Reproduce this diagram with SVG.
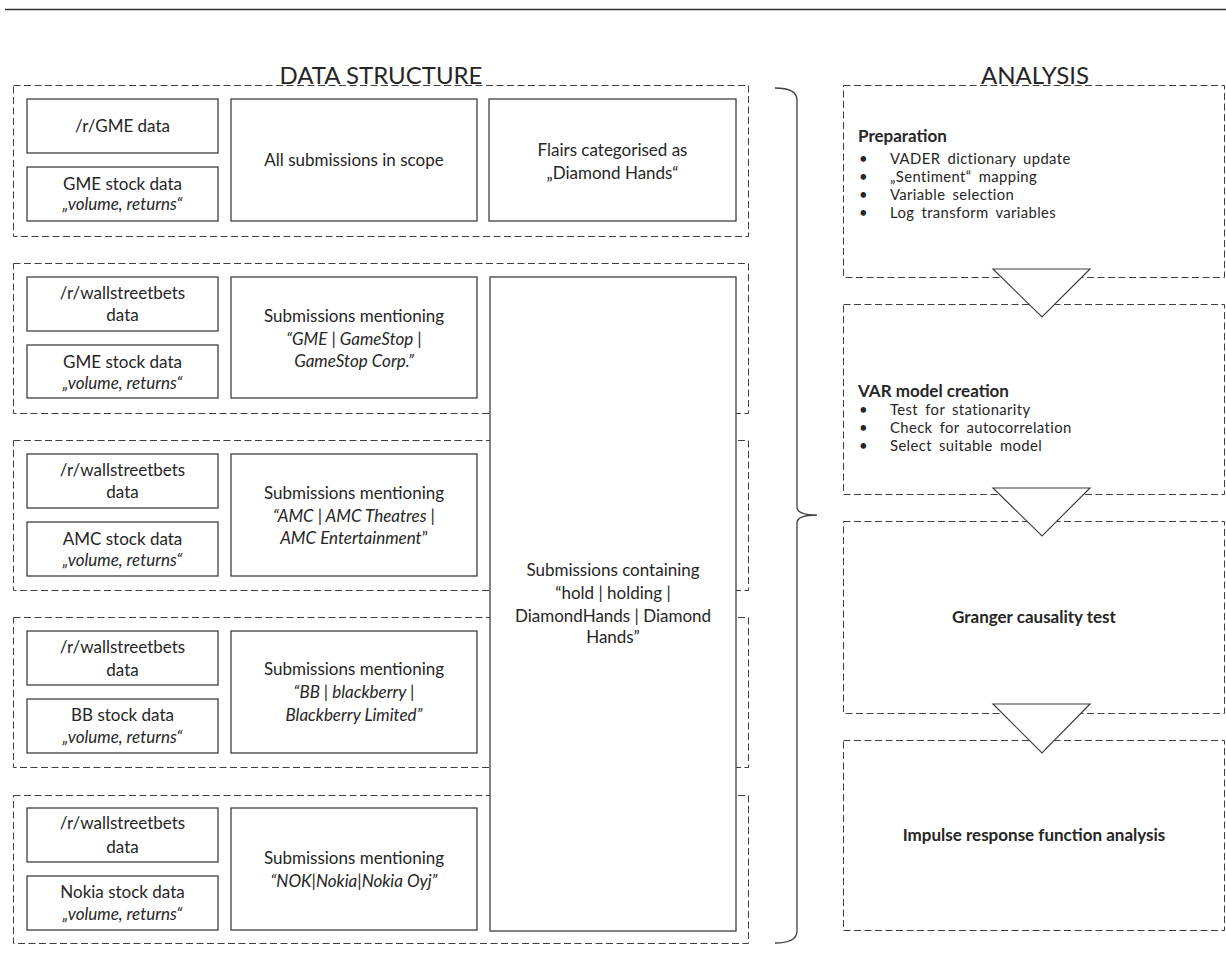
<svg xmlns="http://www.w3.org/2000/svg" width="1226" height="967" viewBox="0 0 1226 967">
<style>
text{font-family:Lato,"Open Sans","Liberation Sans",sans-serif;fill:#262626;font-size:17px;text-anchor:middle}
.title{font-size:24px}
.it{font-style:italic}
.b{font-weight:bold}
.l{text-anchor:start}
.li{font-size:14.8px;letter-spacing:0.4px;word-spacing:3px;text-anchor:start}
.grp{fill:none;stroke:#404040;stroke-width:1;stroke-dasharray:7,3.5}
.box{fill:#fff;stroke:#404040;stroke-width:1.3}
.tri{fill:#fff;stroke:#404040;stroke-width:1.2;stroke-linejoin:miter}
.br{fill:none;stroke:#404040;stroke-width:1.3}
</style>
<rect width="1226" height="967" fill="#fff"/>
<line x1="5" y1="9.5" x2="1226" y2="9.5" stroke="#333" stroke-width="1.3"/>
<text class="title" x="381" y="84">DATA STRUCTURE</text>
<text class="title" x="1035" y="84">ANALYSIS</text>

<g id="group-gme-reddit">
<rect class="grp" x="13.5" y="85.5" width="735" height="151"/>
<g id="n-gme-data"><rect class="box" x="27" y="99" width="191" height="54"/><text x="122.5" y="132">/r/GME data</text></g>
<g id="n-gme-stock"><rect class="box" x="27" y="167" width="191" height="54"/><text x="122.5" y="190">GME stock data</text><text class="it" x="122.5" y="210">„volume, returns“</text></g>
<g id="n-all-subs"><rect class="box" x="231" y="99" width="246" height="122"/><text x="354" y="166">All submissions in scope</text></g>
<g id="n-flairs"><rect class="box" x="489" y="99" width="247" height="122"/><text x="612.5" y="156">Flairs categorised as</text><text x="612.5" y="179">„Diamond Hands“</text></g>
</g>

<g id="group-gme-wsb">
<rect class="grp" x="13.5" y="263.5" width="735" height="150"/>
<g id="n-wsb-1"><rect class="box" x="27" y="277" width="191" height="54"/><text x="122.5" y="299">/r/wallstreetbets</text><text x="122.5" y="321">data</text></g>
<g id="n-gme-stock-2"><rect class="box" x="27" y="345" width="191" height="53"/><text x="122.5" y="368">GME stock data</text><text class="it" x="122.5" y="389">„volume, returns“</text></g>
<g id="n-gme-subs"><rect class="box" x="231" y="277" width="246" height="121"/><text x="354" y="322">Submissions mentioning</text><text class="it" x="354" y="345">“GME | GameStop |</text><text class="it" x="354" y="367">GameStop Corp.”</text></g>
</g>

<g id="group-amc">
<rect class="grp" x="13.5" y="440.5" width="735" height="150"/>
<g id="n-wsb-2"><rect class="box" x="27" y="454" width="191" height="54"/><text x="122.5" y="476">/r/wallstreetbets</text><text x="122.5" y="498">data</text></g>
<g id="n-amc-stock"><rect class="box" x="27" y="522" width="191" height="54"/><text x="122.5" y="545">AMC stock data</text><text class="it" x="122.5" y="566">„volume, returns“</text></g>
<g id="n-amc-subs"><rect class="box" x="231" y="454" width="246" height="122"/><text x="354" y="499">Submissions mentioning</text><text class="it" x="354" y="522">“AMC | AMC Theatres |</text><text x="354" y="544"><tspan class="it">AMC Entertainment</tspan>”</text></g>
</g>

<g id="group-bb">
<rect class="grp" x="13.5" y="617.5" width="735" height="150"/>
<g id="n-wsb-3"><rect class="box" x="27" y="631" width="191" height="54"/><text x="122.5" y="653">/r/wallstreetbets</text><text x="122.5" y="676">data</text></g>
<g id="n-bb-stock"><rect class="box" x="27" y="699" width="191" height="54"/><text x="122.5" y="721">BB stock data</text><text class="it" x="122.5" y="743">„volume, returns“</text></g>
<g id="n-bb-subs"><rect class="box" x="231" y="631" width="246" height="122"/><text x="354" y="675">Submissions mentioning</text><text class="it" x="354" y="698">“BB | blackberry |</text><text class="it" x="354" y="721">Blackberry Limited”</text></g>
</g>

<g id="group-nokia">
<rect class="grp" x="13.5" y="795.5" width="735" height="148"/>
<g id="n-wsb-4"><rect class="box" x="27" y="808" width="191" height="54"/><text x="122.5" y="829">/r/wallstreetbets</text><text x="122.5" y="853">data</text></g>
<g id="n-nokia-stock"><rect class="box" x="27" y="876" width="191" height="54"/><text x="122.5" y="898">Nokia stock data</text><text class="it" x="122.5" y="920">„volume, returns“</text></g>
<g id="n-nokia-subs"><rect class="box" x="231" y="808" width="246" height="122"/><text x="354" y="864">Submissions mentioning</text><text class="it" x="354" y="887">“NOK|Nokia|Nokia  Oyj”</text></g>
</g>

<g id="n-containing">
<rect class="box" x="490" y="277" width="246" height="654"/>
<text x="613" y="576">Submissions containing</text>
<text x="613" y="599">“hold | holding |</text>
<text x="613" y="622">DiamondHands  | Diamond</text>
<text x="613" y="643">Hands”</text>
</g>

<g id="n-preparation">
<rect class="grp" x="843.5" y="85.5" width="381" height="192"/>
<text class="b l" x="858" y="142">Preparation</text>
<text class="li" x="859" y="164">•</text><text class="li" x="890" y="164">VADER dictionary update</text>
<text class="li" x="859" y="182">•</text><text class="li" x="890" y="182">„Sentiment“ mapping</text>
<text class="li" x="859" y="200">•</text><text class="li" x="890" y="200">Variable selection</text>
<text class="li" x="859" y="218">•</text><text class="li" x="890" y="218">Log transform variables</text>
</g>
<g id="n-var">
<rect class="grp" x="843.5" y="304.5" width="381" height="190"/>
<text class="b l" x="858" y="397">VAR model creation</text>
<text class="li" x="859" y="415">•</text><text class="li" x="890" y="415">Test for stationarity</text>
<text class="li" x="859" y="433">•</text><text class="li" x="890" y="433">Check for autocorrelation</text>
<text class="li" x="859" y="451">•</text><text class="li" x="890" y="451">Select suitable model</text>
</g>
<g id="n-granger">
<rect class="grp" x="843.5" y="521.5" width="381" height="192"/>
<text class="b" x="1034" y="623">Granger causality test</text>
</g>
<g id="n-impulse">
<rect class="grp" x="843.5" y="740.5" width="381" height="190"/>
<text class="b" x="1034" y="841">Impulse response function analysis</text>
</g>

<g id="connectors">
<path class="br" d="M775,88 Q797,88 797,100 L797,507 Q797,515 817,515 Q797,515 797,523 L797,931 Q797,943 775,943"/>
<polygon class="tri" points="993,269 1090,269 1042,317"/>
<polygon class="tri" points="993,488 1090,488 1042,536"/>
<polygon class="tri" points="993,704 1090,704 1042,753"/>
</g>
</svg>
